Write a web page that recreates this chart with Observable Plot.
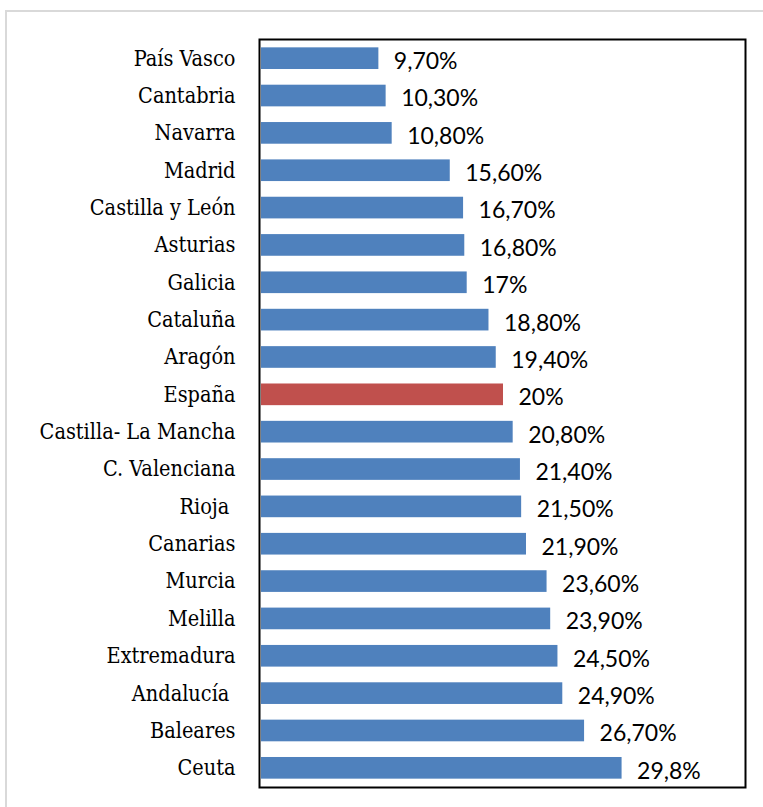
<!DOCTYPE html>
<html><head><meta charset="utf-8">
<script src="https://cdn.jsdelivr.net/npm/d3@7"></script>
<script src="https://cdn.jsdelivr.net/npm/@observablehq/plot@0.6"></script>
<style>
html,body{margin:0;padding:0;background:#fff;}
#wrap{position:relative;width:763px;height:807px;overflow:hidden;}
#border{position:absolute;left:5px;top:10px;width:800px;height:820px;border:2px solid #d9d9d9;box-sizing:border-box;}
#chart{position:absolute;left:0;top:0;}
</style></head>
<body><div id="wrap"><div id="border"></div><div id="chart"></div></div>
<script>
const regions = ["País Vasco","Cantabria","Navarra","Madrid","Castilla y León","Asturias","Galicia","Cataluña","Aragón","España","Castilla- La Mancha","C. Valenciana","Rioja\u00a0","Canarias","Murcia","Melilla","Extremadura","Andalucía\u00a0","Baleares","Ceuta"];
const values = [9.7,10.3,10.8,15.6,16.7,16.8,17,18.8,19.4,20,20.8,21.4,21.5,21.9,23.6,23.9,24.5,24.9,26.7,29.8];
const valueLabels = ["9,70%","10,30%","10,80%","15,60%","16,70%","16,80%","17%","18,80%","19,40%","20%","20,80%","21,40%","21,50%","21,90%","23,60%","23,90%","24,50%","24,90%","26,70%","29,8%"];
const highlight = "España";
const data = regions.map((r,i)=>({region:r, value:values[i], label:valueLabels[i]}));
const chart = Plot.plot({
  width:763, height:807,
  marginLeft:259, marginRight:18, marginTop:39, marginBottom:20,
  style:{fontFamily:"'DejaVu Serif Condensed', serif", fontSize:"21.5px", background:"transparent"},
  x:{domain:[0,40], range:[261,745], axis:null},
  y:{domain:regions, range:[39.5,786.5], round:false, paddingInner:0.42, paddingOuter:0.21, label:null, tickSize:0, tickPadding:24},
  marks:[
    Plot.barX(data,{x:"value", y:"region", fill:d=>d.region===highlight?"#C0504D":"#4F81BD"}),
    Plot.text(data,{x:"value", y:"region", text:"label", textAnchor:"start", dx:15, dy:3, fontSize:23, fontFamily:"Lato, sans-serif", fill:"#000"}),
    Plot.frame({stroke:"#000", strokeWidth:2})
  ]
});
chart.querySelectorAll("g[aria-label='y-axis tick label'] text").forEach(t=>t.setAttribute("fill","#000"));
document.getElementById("chart").appendChild(chart);
</script></body></html>
